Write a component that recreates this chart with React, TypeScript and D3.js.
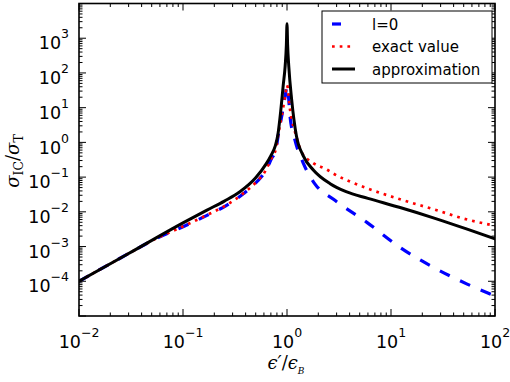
import React from 'react';
import * as d3 from 'd3';

// l=0 (blue dashed)
const l0X = [0.01, 0.03, 0.056, 0.1, 0.17, 0.26, 0.38, 0.51, 0.62, 0.71, 0.78, 0.83, 0.91, 0.966, 1, 1.035, 1.07, 1.19, 1.43, 1.86, 2.8, 5.9, 12.3, 25.7, 54, 100];
const l0Y = [1.0e-4, 6.3e-4, 1.74e-3, 3.7e-3, 7.9e-3, 0.0151, 0.0331, 0.0724, 0.148, 0.34, 0.6, 1.85, 8.3, 24, 41.7, 20, 5.6, 1.2, 0.257, 0.063, 0.0229, 4.9e-3, 9.3e-4, 2.5e-4, 8.3e-5, 3.8e-5];

// exact value (red dotted)
const exactX = [0.01, 0.03, 0.056, 0.1, 0.17, 0.26, 0.38, 0.51, 0.62, 0.71, 0.78, 0.83, 0.91, 0.966, 1, 1.07, 1.23, 1.38, 1.78, 2.4, 2.8, 6, 12, 26, 54, 100];
const exactY = [1.0e-4, 6.3e-4, 1.74e-3, 3.8e-3, 8.1e-3, 0.0155, 0.0339, 0.0741, 0.151, 0.355, 0.63, 1.9, 8.5, 25.1, 44.7, 8.7, 1.48, 0.525, 0.257, 0.166, 0.126, 0.0468, 0.0234, 0.0117, 6.0e-3, 4.0e-3];

// approximation (black solid)
const approxX = [0.01, 0.03, 0.1, 0.17, 0.25, 0.35, 0.5, 0.63, 0.7, 0.77, 0.82, 0.87, 0.92, 0.96, 0.986, 1, 1.014, 1.04, 1.11, 1.23, 1.43, 1.8, 2.6, 3.7, 6, 12, 26, 54, 100];
const approxY = [1.0e-4, 6.3e-4, 4.8e-3, 0.0112, 0.0204, 0.0372, 0.0955, 0.24, 0.417, 0.776, 1.78, 7.9, 44.7, 158, 631, 2600, 631, 158, 16.6, 1.58, 0.417, 0.158, 0.0646, 0.038, 0.0245, 0.0135, 6.6e-3, 3.16e-3, 1.66e-3];

const seriesNames = ['l=0', 'exact value', 'approximation'];
const xTickExps = [-2, -1, 0, 1, 2];
const yTickExps = [-4, -3, -2, -1, 0, 1, 2, 3];

const W = 510;
const H = 382;
const left = 79, right = 495, top = 3.5, bottom = 316;

const styles = [
  { color: '#0000ff', width: 3.2, dash: '11 11.5', cap: 'butt' },
  { color: '#ff0000', width: 2.7, dash: '2.7 5', cap: 'butt' },
  { color: '#000000', width: 3, dash: null, cap: 'round' },
];

const sup = (e: number) => (e < 0 ? '\u2212' + Math.abs(e) : String(e));

export default function App() {
  const x = d3.scaleLog().domain([1e-2, 1e2]).range([left, right]);
  const y = d3.scaleLog().domain([1e-5, 1e4]).range([bottom, top]);

  const line = d3.line<[number, number]>()
    .x(d => x(d[0]))
    .y(d => y(d[1]))
    .curve(d3.curveMonotoneX);

  const series = [
    d3.zip(l0X, l0Y) as [number, number][],
    d3.zip(exactX, exactY) as [number, number][],
    d3.zip(approxX, approxY) as [number, number][],
  ];

  // minor ticks at 2..9 of each decade
  const minors = (lo: number, hi: number) => {
    const out: number[] = [];
    for (let e = lo; e < hi; e++) {
      for (let k = 2; k <= 9; k++) out.push(k * Math.pow(10, e));
    }
    return out;
  };
  const xMinor = minors(-2, 2);
  const yMinor = minors(-5, 4);
  const xMajor = xTickExps.map(e => Math.pow(10, e));
  const yMajor = d3.range(-5, 5).map(e => Math.pow(10, e));

  const font = '"DejaVu Sans", sans-serif';
  const serif = '"DejaVu Serif", "Liberation Serif", serif';

  return (
    <svg width={W} height={H} style={{ position: 'absolute', left: 0, top: 0, background: '#fff' }}>
      <defs>
        <clipPath id="plot">
          <rect x={left} y={top} width={right - left} height={bottom - top} />
        </clipPath>
      </defs>

      {/* curves */}
      <g clipPath="url(#plot)">
        {series.map((s, i) => (
          <path key={i} d={line(s) || ''} fill="none" stroke={styles[i].color}
            strokeWidth={styles[i].width} strokeDasharray={styles[i].dash || undefined}
            strokeLinecap={styles[i].cap as any} strokeLinejoin="round" />
        ))}
      </g>

      {/* ticks, inward on all sides */}
      <g stroke="#000" strokeWidth={1}>
        {xMajor.map((v, i) => (
          <g key={'xM' + i}>
            <line x1={x(v)} x2={x(v)} y1={bottom} y2={bottom - 7} />
            <line x1={x(v)} x2={x(v)} y1={top} y2={top + 7} />
          </g>
        ))}
        {xMinor.map((v, i) => (
          <g key={'xm' + i}>
            <line x1={x(v)} x2={x(v)} y1={bottom} y2={bottom - 3.5} />
            <line x1={x(v)} x2={x(v)} y1={top} y2={top + 3.5} />
          </g>
        ))}
        {yMajor.map((v, i) => (
          <g key={'yM' + i}>
            <line x1={left} x2={left + 7} y1={y(v)} y2={y(v)} />
            <line x1={right} x2={right - 7} y1={y(v)} y2={y(v)} />
          </g>
        ))}
        {yMinor.map((v, i) => (
          <g key={'ym' + i}>
            <line x1={left} x2={left + 3.5} y1={y(v)} y2={y(v)} />
            <line x1={right} x2={right - 3.5} y1={y(v)} y2={y(v)} />
          </g>
        ))}
      </g>

      {/* frame */}
      <rect x={left} y={top} width={right - left} height={bottom - top} fill="none" stroke="#000" strokeWidth={1.6} />

      {/* tick labels */}
      <g fontFamily={font} fontSize={17.5} fill="#000">
        {xTickExps.map(e => (
          <text key={'xl' + e} x={x(Math.pow(10, e))} y={347.5} textAnchor="middle">
            10<tspan dy={-11} fontSize={12.5}>{sup(e)}</tspan>
          </text>
        ))}
        {yTickExps.map(e => (
          <text key={'yl' + e} x={69} y={y(Math.pow(10, e)) + 11.2} textAnchor="end">
            10<tspan dy={-11} fontSize={12.5}>{sup(e)}</tspan>
          </text>
        ))}
      </g>

      {/* axis titles */}
      <text x={286} y={369} textAnchor="middle" fontFamily={serif} fontSize={18} fontStyle="italic">
        {'\u03F5\u2032'}<tspan fontStyle="normal">/</tspan>{'\u03F5'}<tspan dy={5} fontSize={9}>B</tspan>
      </text>
      <text transform={`translate(19,161) rotate(-90)`} textAnchor="middle" fontFamily={serif} fontSize={18}>
        <tspan fontStyle="italic">{'\u03C3'}</tspan><tspan dy={4} fontSize={12.5}>IC</tspan>
        <tspan dy={-4}>/</tspan><tspan fontStyle="italic">{'\u03C3'}</tspan><tspan dy={4} fontSize={12.5}>T</tspan>
      </text>

      {/* legend */}
      <g>
        <rect x={322} y={11} width={170} height={72} fill="#fff" stroke="#000" strokeWidth={1} />
        {seriesNames.map((name, i) => {
          const yy = 24 + i * 22.5;
          return (
            <g key={name}>
              <line x1={332} x2={i === 0 ? 341 : 355} y1={yy} y2={yy} stroke={styles[i].color}
                strokeWidth={styles[i].width} strokeDasharray={i === 0 ? undefined : styles[i].dash || undefined} />
              <text x={372} y={yy + 5.5} fontFamily={font} fontSize={15}>{name}</text>
            </g>
          );
        })}
      </g>
    </svg>
  );
}
